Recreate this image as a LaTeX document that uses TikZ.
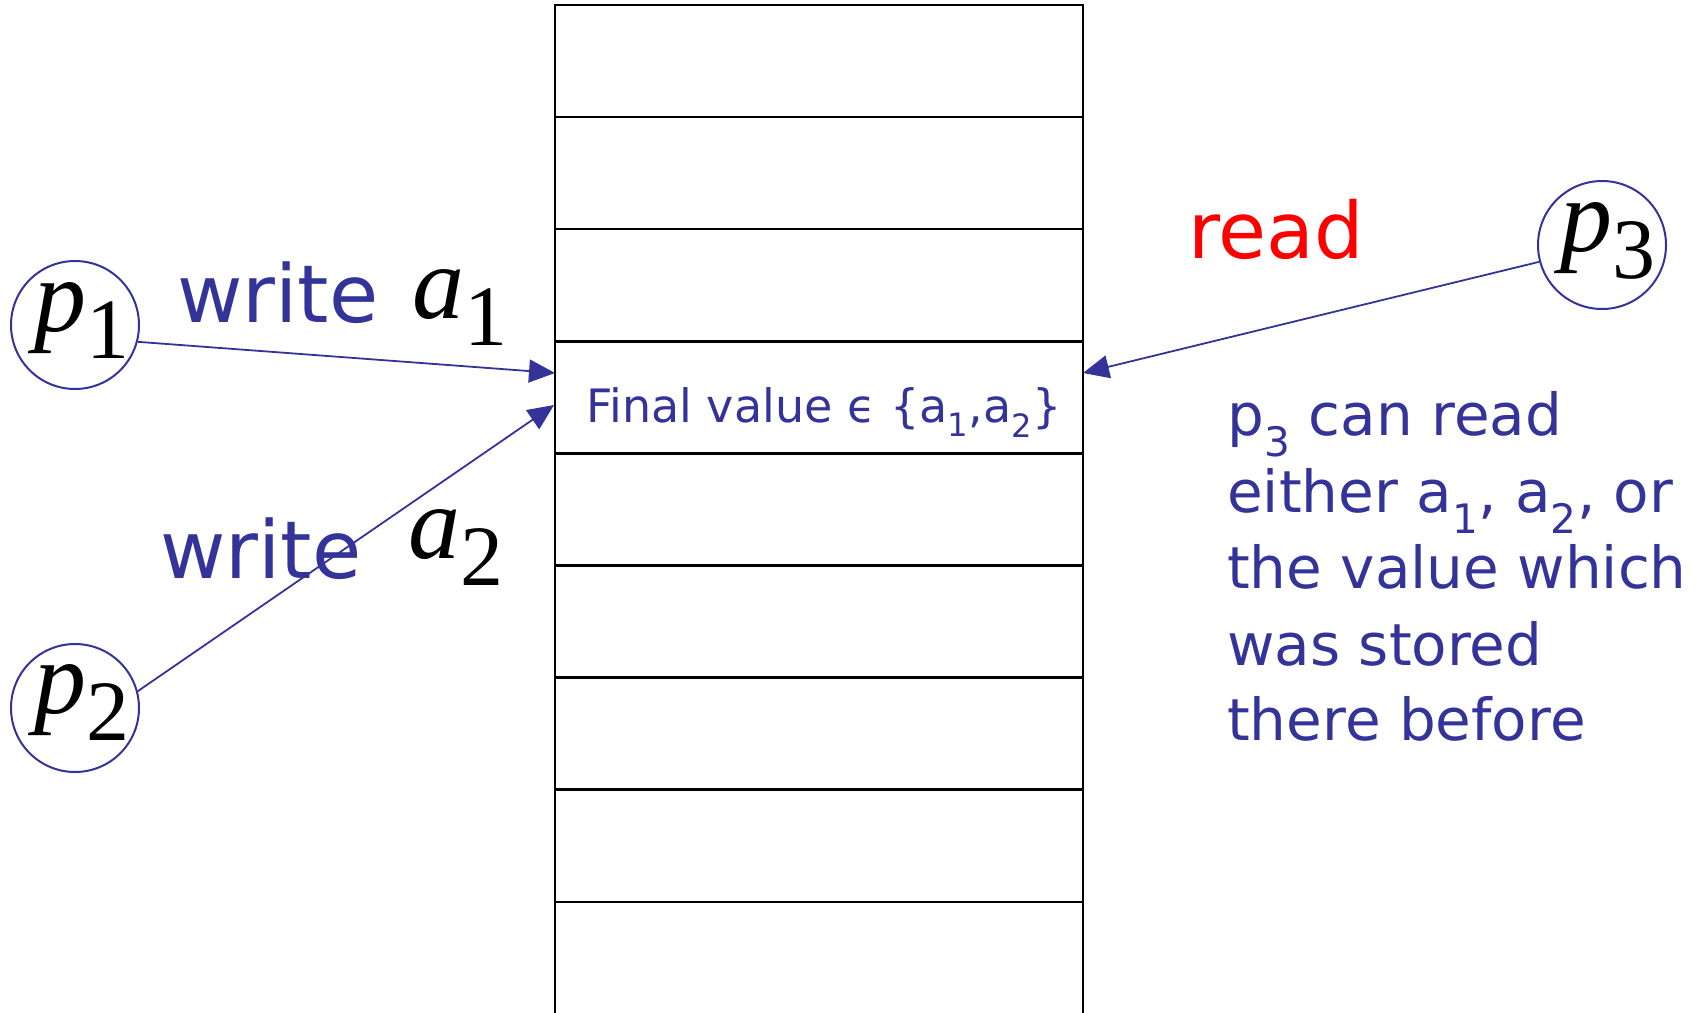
\documentclass[tikz,border=0pt]{standalone}
\usepackage{fontspec}
\setmainfont{DejaVu Sans}
\newfontfamily\tms{Liberation Serif}
\usetikzlibrary{arrows.meta}
\definecolor{pblue}{RGB}{51,51,153}
\newcommand{\mv}[2]{{\tms\fontsize{104}{104}\selectfont\itshape #1}{\tms\fontsize{86}{86}\selectfont\raisebox{-27pt}{#2}}}
\begin{document}
\begin{tikzpicture}[x=1pt,y=-1pt,
  cell/.style={draw=black,line width=2.5pt,minimum width=528pt,minimum height=112.1pt,inner sep=0pt},
  proc/.style={circle,draw=pblue,line width=2pt,minimum size=128pt,inner sep=0pt},
  conn/.style={draw=pblue,line width=1.8pt,-{Triangle[length=26pt,width=23pt]}},
  lbl/.style={text=pblue,inner sep=0pt,anchor=base west,font=\fontsize{80}{80}\selectfont},
  note/.style={text=pblue,inner sep=0pt,anchor=base west,font=\fontsize{58}{58}\selectfont},
  mathlbl/.style={inner sep=0pt,text=black}
]
\useasboundingbox (0,0) rectangle (1700,1012);
% memory cells
\node[cell] (c1) at (819,61.05) {};
\node[cell] (c2) at (819,173.15) {};
\node[cell] (c3) at (819,285.25) {};
\node[cell] (c4) at (819,397.35) {};
\node[cell] (c5) at (819,509.45) {};
\node[cell] (c6) at (819,621.55) {};
\node[cell] (c7) at (819,733.65) {};
\node[cell] (c8) at (819,845.75) {};
\node[cell] (c9) at (819,957.85) {};
\node[text=pblue,inner sep=0pt,anchor=base,font=\fontsize{46}{46}\selectfont] (ft) at (824,422) {Final value ϵ \{a\textsubscript{1},a\textsubscript{2}\}};
% processes
\node[proc] (p1) at (75,325) {};
\node[proc] (p2) at (75,708) {};
\node[proc] (p3) at (1602,245) {};
\node[mathlbl,anchor=base] (p1t) at (82,331) {\mv{p}{1}};
\node[mathlbl,anchor=base] (p2t) at (82,713) {\mv{p}{2}};
\node[mathlbl,anchor=base] (p3t) at (1608,251) {\mv{p}{3}};
% arrow ends
\coordinate (t1) at (555,373);
\coordinate (t2) at (554,405);
\coordinate (t3) at (1083,373);
\draw[conn] (p1.-15) -- (t1);
\draw[conn] (p2.15) -- (t2);
\draw[conn] (p3.195) -- (t3);
% labels
\node[lbl] (w1) at (177,322) {write};
\node[mathlbl,anchor=base west] (a1) at (412,318) {\mv{a}{1}};
\node[lbl] (w2) at (160,578) {write};
\node[mathlbl,anchor=base west] (a2) at (408,558) {\mv{a}{2}};
\node[text=red,inner sep=0pt,anchor=base west,font=\fontsize{78}{78}\selectfont] (rd) at (1188,258) {read};
% note
\node[note] (n1) at (1227,435) {p\textsubscript{3} can read};
\node[note] (n2) at (1227,512) {either a\textsubscript{1}, a\textsubscript{2}, or};
\node[note] (n3) at (1227,588) {the value which};
\node[note] (n4) at (1227,665) {was stored};
\node[note] (n5) at (1227,740) {there before};
\end{tikzpicture}
\end{document}
